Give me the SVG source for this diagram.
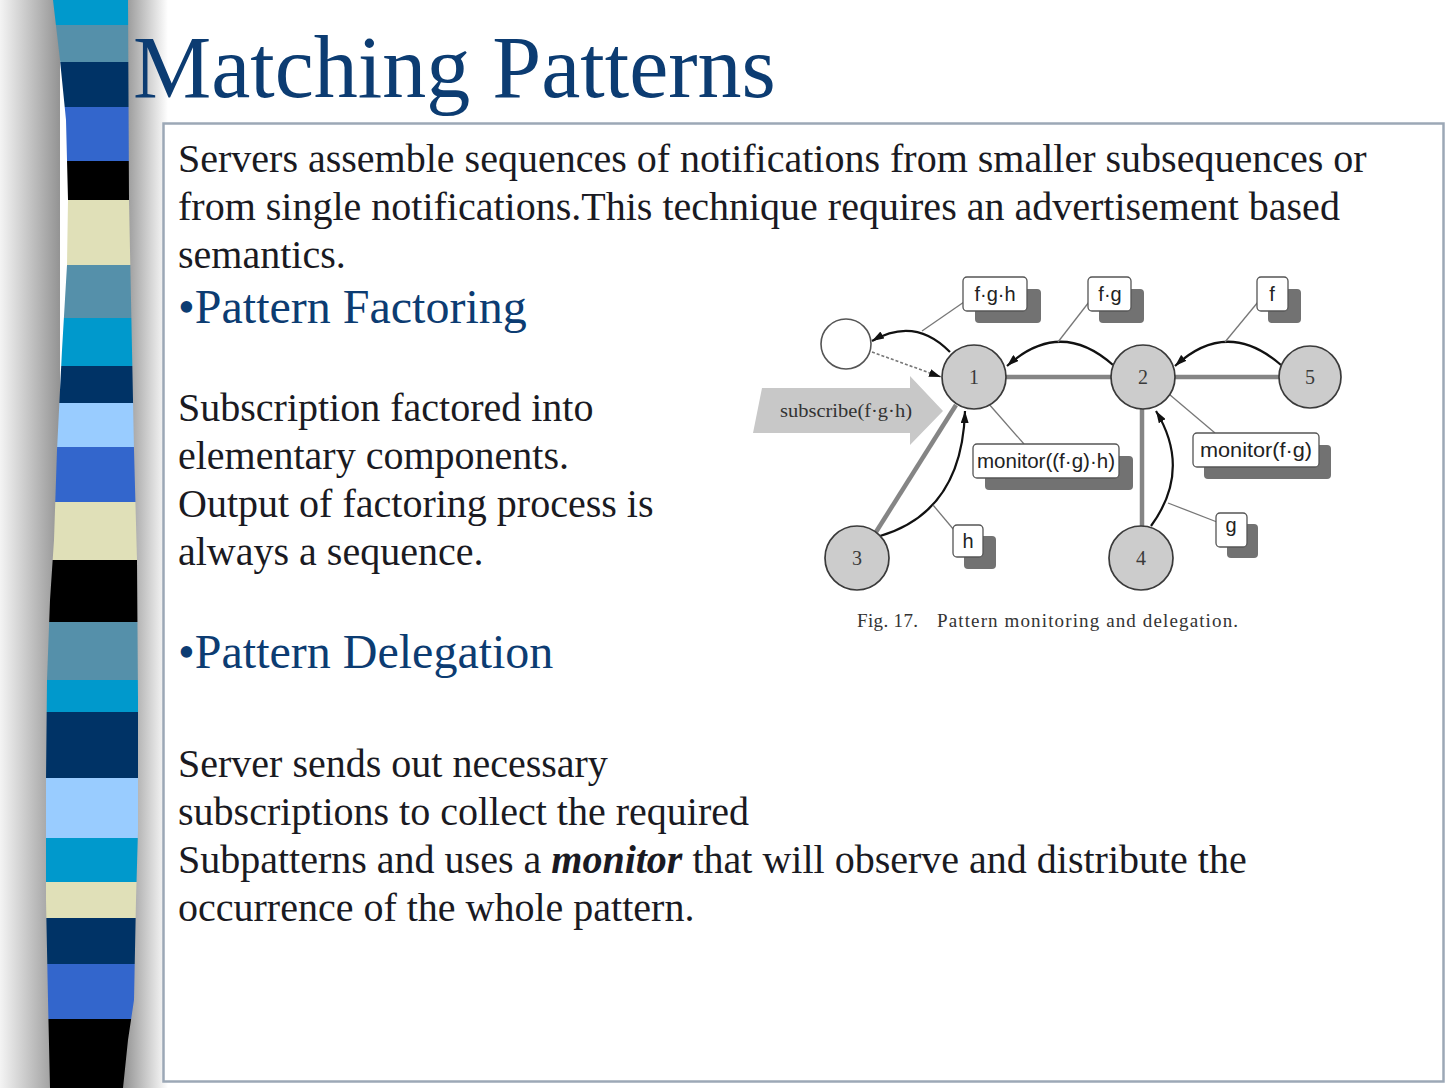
<svg xmlns="http://www.w3.org/2000/svg" width="1456" height="1088" viewBox="0 0 1456 1088">
<defs>
<style>
.body{font-family:"Liberation Serif","Times New Roman",serif;font-size:40px;fill:#1a1a22}
.head{font-family:"Liberation Serif","Times New Roman",serif;fill:#0c3c72}
.lab{font-family:"Liberation Sans",Arial,sans-serif;font-size:20px;fill:#222;text-anchor:middle}
.num{font-family:"Liberation Serif","Times New Roman",serif;font-size:20px;fill:#3a3a3a;text-anchor:middle}
.node{fill:#cccccc;stroke:#3a3a3a;stroke-width:1.7}
.edge{stroke:#858585;stroke-width:4.5;fill:none}
.arc{stroke:#111;stroke-width:2.2;fill:none}
.lead{stroke:#777;stroke-width:1.3;fill:none}
.box{fill:#fff;stroke:#555;stroke-width:1.3}
.shadow{fill:#727272}
</style>
<linearGradient id="shL" x1="0" y1="0" x2="1" y2="0">
<stop offset="0" stop-color="#f4f4f4"/>
<stop offset="1" stop-color="#939393"/>
</linearGradient>
<linearGradient id="shR" x1="0" y1="0" x2="1" y2="0">
<stop offset="0" stop-color="#8a8a8a"/>
<stop offset="1" stop-color="#ffffff"/>
</linearGradient>
<clipPath id="barClip">
<polygon points="53,0 60,60 66,120 68,200 67,265 62,350 57,450 54,540 50,600 47,680 46,780 46,900 48,1000 50,1088 123,1088 128,1040 134,1000 136,900 138,830 138,700 137,560 134,450 131,300 129,200 128,0"/>
</clipPath>
<marker id="ah" viewBox="0 0 12 8" refX="12" refY="4" markerWidth="12" markerHeight="8" markerUnits="userSpaceOnUse" orient="auto">
<path d="M0,0 L12,4 L0,8 z" fill="#111"/>
</marker>
</defs>
<rect width="1456" height="1088" fill="#fff"/>
<g id="sidebar">
<rect x="0" y="0" width="60" height="1088" fill="url(#shL)"/>
<rect x="120" y="0" width="48" height="1088" fill="url(#shR)"/>
<g clip-path="url(#barClip)">
<rect x="40" y="0" width="110" height="25" fill="#0099cc"/>
<rect x="40" y="25" width="110" height="37" fill="#5590aa"/>
<rect x="40" y="62" width="110" height="45" fill="#003366"/>
<rect x="40" y="107" width="110" height="54" fill="#3366cc"/>
<rect x="40" y="161" width="110" height="39" fill="#000"/>
<rect x="40" y="200" width="110" height="65" fill="#e0e0b8"/>
<rect x="40" y="265" width="110" height="53" fill="#5590aa"/>
<rect x="40" y="318" width="110" height="48" fill="#0099cc"/>
<rect x="40" y="366" width="110" height="37" fill="#003366"/>
<rect x="40" y="403" width="110" height="44" fill="#99ccff"/>
<rect x="40" y="447" width="110" height="55" fill="#3366cc"/>
<rect x="40" y="502" width="110" height="58" fill="#e0e0b8"/>
<rect x="40" y="560" width="110" height="62" fill="#000"/>
<rect x="40" y="622" width="110" height="58" fill="#5590aa"/>
<rect x="40" y="680" width="110" height="32" fill="#0099cc"/>
<rect x="40" y="712" width="110" height="66" fill="#003366"/>
<rect x="40" y="778" width="110" height="60" fill="#99ccff"/>
<rect x="40" y="838" width="110" height="44" fill="#0099cc"/>
<rect x="40" y="882" width="110" height="36" fill="#e0e0b8"/>
<rect x="40" y="918" width="110" height="46" fill="#003366"/>
<rect x="40" y="964" width="110" height="55" fill="#3366cc"/>
<rect x="40" y="1019" width="110" height="69" fill="#000"/>
</g>
</g>
<g id="title">
<text class="head" x="133" y="97" font-size="88">Matching Patterns</text>
</g>
<g id="frame">
<rect x="163.5" y="123.5" width="1280" height="958" fill="#fff" stroke="#9ca8b6" stroke-width="2.5"/>
</g>
<g id="bodytext">
<text class="body" x="178" y="172">Servers assemble sequences of notifications from smaller subsequences or</text>
<text class="body" x="178" y="220">from single notifications.This technique requires an advertisement based</text>
<text class="body" x="178" y="268">semantics.</text>
<text class="head" x="178" y="323" font-size="48">•Pattern Factoring</text>
<text class="body" x="178" y="421">Subscription factored into</text>
<text class="body" x="178" y="469">elementary components.</text>
<text class="body" x="178" y="517">Output of factoring process is</text>
<text class="body" x="178" y="565">always a sequence.</text>
<text class="head" x="178" y="668" font-size="48">•Pattern Delegation</text>
<text class="body" x="178" y="777">Server sends out necessary</text>
<text class="body" x="178" y="825">subscriptions to collect the required</text>
<text class="body" x="178" y="873">Subpatterns and uses a <tspan font-weight="bold" font-style="italic">monitor</tspan> that will observe and distribute the</text>
<text class="body" x="178" y="921">occurrence of the whole pattern.</text>
</g>
<g id="figure">
<g id="subscribe-arrow">
<polygon points="762,388 910,388 910,376 943,411 910,445 910,433 753,433" fill="#c8c8c8"/>
<text x="846" y="417" font-family="'Liberation Serif','Times New Roman',serif" font-size="19" fill="#333" text-anchor="middle" textLength="132" lengthAdjust="spacingAndGlyphs">subscribe(f·g·h)</text>
</g>
<g id="connectors">
<line class="edge" x1="1006" y1="377" x2="1111" y2="377"/>
<line class="edge" x1="1175" y1="377" x2="1279" y2="377"/>
<line class="edge" x1="1142" y1="409" x2="1142" y2="527"/>
<line class="edge" x1="956" y1="405" x2="876" y2="532"/>
<path class="arc" d="M950,352 Q915,316 872,341" marker-end="url(#ah)"/>
<line x1="872" y1="352" x2="941" y2="377" stroke="#777" stroke-width="1.6" stroke-dasharray="3,2" marker-end="url(#ah)"/>
<path class="arc" d="M1113,365 Q1060,318 1007,366" marker-end="url(#ah)"/>
<path class="arc" d="M1281,365 Q1227,318 1175,366" marker-end="url(#ah)"/>
<path class="arc" d="M1151,526 Q1192,470 1156,411" marker-end="url(#ah)"/>
<path class="arc" d="M880,536 Q962,512 965,411" marker-end="url(#ah)"/>
<line class="lead" x1="964" y1="302" x2="922" y2="331"/>
<line class="lead" x1="1089" y1="302" x2="1058" y2="342"/>
<line class="lead" x1="1258" y1="302" x2="1225" y2="342"/>
<line class="lead" x1="1024" y1="444" x2="988" y2="403"/>
<line class="lead" x1="1215" y1="433" x2="1163" y2="389"/>
<line class="lead" x1="954" y1="530" x2="933" y2="505"/>
<line class="lead" x1="1217" y1="522" x2="1168" y2="503"/>
</g>
<g id="node-0"><circle cx="846" cy="344" r="25" fill="#fff" stroke="#555" stroke-width="1.6"/></g>
<g id="node-1"><circle class="node" cx="974" cy="377" r="32"/><text class="num" x="974" y="384">1</text></g>
<g id="node-2"><circle class="node" cx="1143" cy="377" r="32"/><text class="num" x="1143" y="384">2</text></g>
<g id="node-5"><circle class="node" cx="1310" cy="377" r="31"/><text class="num" x="1310" y="384">5</text></g>
<g id="node-3"><circle class="node" cx="857" cy="558" r="32"/><text class="num" x="857" y="565">3</text></g>
<g id="node-4"><circle class="node" cx="1141" cy="558" r="32"/><text class="num" x="1141" y="565">4</text></g>
<g id="label-fgh"><rect class="shadow" x="975" y="289" width="66" height="34" rx="4"/><rect class="box" x="963" y="277" width="64" height="34" rx="4"/><text class="lab" x="995" y="301">f·g·h</text></g>
<g id="label-fg"><rect class="shadow" x="1099" y="289" width="45" height="34" rx="4"/><rect class="box" x="1088" y="277" width="43" height="34" rx="4"/><text class="lab" x="1110" y="301">f·g</text></g>
<g id="label-f"><rect class="shadow" x="1268" y="289" width="33" height="34" rx="4"/><rect class="box" x="1257" y="277" width="31" height="34" rx="4"/><text class="lab" x="1272" y="301">f</text></g>
<g id="label-mon1"><rect class="shadow" x="985" y="456" width="148" height="34" rx="4"/><rect class="box" x="973" y="444" width="146" height="34" rx="4"/><text class="lab" x="1046" y="468" textLength="138" lengthAdjust="spacingAndGlyphs">monitor((f·g)·h)</text></g>
<g id="label-mon2"><rect class="shadow" x="1204" y="445" width="127" height="34" rx="4"/><rect class="box" x="1193" y="433" width="126" height="34" rx="4"/><text class="lab" x="1256" y="457" textLength="112" lengthAdjust="spacingAndGlyphs">monitor(f·g)</text></g>
<g id="label-h"><rect class="shadow" x="964" y="536" width="32" height="33" rx="4"/><rect class="box" x="953" y="525" width="30" height="32" rx="4"/><text class="lab" x="968" y="548">h</text></g>
<g id="label-g"><rect class="shadow" x="1227" y="524" width="31" height="34" rx="4"/><rect class="box" x="1216" y="513" width="31" height="34" rx="4"/><text class="lab" x="1231" y="532">g</text></g>
<g id="caption">
<text x="857" y="627" font-family="'Liberation Serif','Times New Roman',serif" font-size="19" fill="#333" textLength="61" lengthAdjust="spacing">Fig. 17.</text>
<text x="937" y="627" font-family="'Liberation Serif','Times New Roman',serif" font-size="19" fill="#333" textLength="301" lengthAdjust="spacing">Pattern monitoring and delegation.</text>
</g>
</g>
</svg>
